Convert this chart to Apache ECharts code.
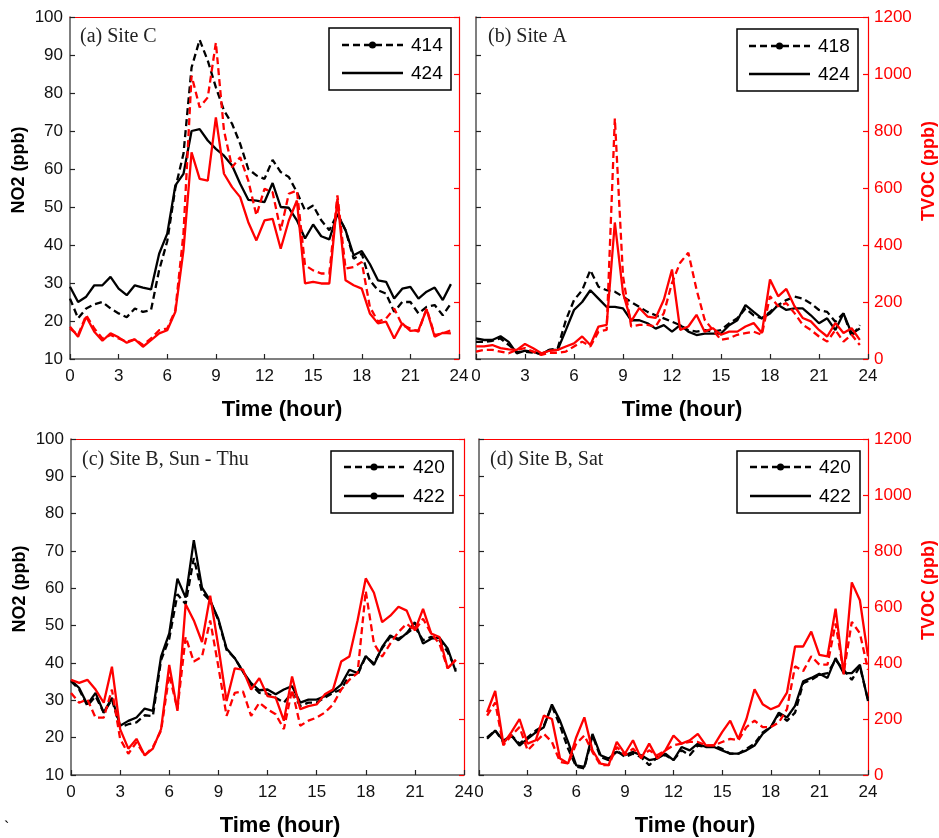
<!DOCTYPE html>
<html>
<head>
<meta charset="utf-8">
<script src="https://cdn.jsdelivr.net/npm/echarts@6/dist/echarts.min.js"></script>
<style>
html,body{margin:0;padding:0;background:#fff;}
#chart{width:939px;height:838px;}
</style>
</head>
<body>
<div id="chart"></div>
<script>
// ---------- DATA ----------
const hoursABC = [0,0.5,1,1.5,2,2.5,3,3.5,4,4.5,5,5.5,6,6.5,7,7.5,8,8.5,9,9.5,10,10.5,11,11.5,12,12.5,13,13.5,14,14.5,15,15.5,16,16.5,17,17.5,18,18.5,19,19.5,20,20.5,21,21.5,22,22.5,23,23.5];
const hoursD = [0.5,1,1.5,2,2.5,3,3.5,4,4.5,5,5.5,6,6.5,7,7.5,8,8.5,9,9.5,10,10.5,11,11.5,12,12.5,13,13.5,14,14.5,15,15.5,16,16.5,17,17.5,18,18.5,19,19.5,20,20.5,21,21.5,22,22.5,23,23.5,24];
const xTicks = [0,3,6,9,12,15,18,21,24];
const no2Ticks = [10,20,30,40,50,60,70,80,90,100];
const tvocTicks = [0,200,400,600,800,1000,1200];

const panelTitles = ['(a) Site C','(b) Site A','(c) Site B, Sun - Thu','(d) Site B, Sat'];
const legendNames = [['414','424'],['418','424'],['420','422'],['420','422']];

// Panel (a) Site C
const aNO2_414 = [25.9,20.7,23.3,24.4,25,23.3,22,21,23.3,22.4,22.9,33.4,41,55,64,86.7,94,88.5,81.5,75.4,71.9,66.6,60,58.3,57.4,62.4,59.2,57.9,53.9,49.1,50.4,46.5,43.9,48.2,43.9,36.4,37.7,30.7,28.1,27.2,22.4,25,25,22,23.7,24.2,21.5,24.6];
const aNO2_424 = [29,25,26.4,29.4,29.4,31.6,28.5,26.8,29.4,28.8,28.3,37.7,43,55.7,58.7,70,70.5,67.5,65.3,63.5,60.9,56.1,51.9,51.7,51.3,56.3,50,49.8,46.5,41.7,45.4,42.3,41.5,48.2,43.9,37.3,38.4,35,30.7,30.3,25.9,28.5,29,25.9,27.7,28.8,25.5,29.7];
const aTVOC_414 = [107,84,154,107,72,84,72,61,69,49,72,101,107,171,440,994,883,918,1110,801,673,708,626,504,597,585,451,580,591,329,311,300,300,574,317,323,340,183,131,142,177,119,107,96,177,84,90,101];
const aTVOC_424 = [113,78,148,96,64,90,76,57,69,43,66,90,101,166,381,725,632,626,848,650,603,568,480,416,486,492,387,486,556,265,271,265,265,562,276,259,247,160,125,131,72,125,99,101,174,78,92,90];

// Panel (b) Site A
const bNO2_418 = [14.5,14.5,14.8,15.4,13.7,11.9,11.9,11.7,11.3,12.4,12.8,20.2,25.5,28.1,33.4,29,28.1,27.7,26.4,25,23.7,22.4,21.5,20.7,19.8,18.9,17.6,17.2,17.6,17.2,17.6,19.4,20.7,23.3,21.5,20.7,22.4,24.2,25.5,26.4,25.9,24.6,22.9,22.4,19.8,22,15.9,18.9];
const bNO2_424 = [15.4,15,15,16,14.5,11.5,12.2,11.9,11.3,12.4,12.4,17.6,22.9,25,28.1,25.9,23.7,23.7,23.3,20.2,20.2,19.4,18,18.9,17.2,18.9,17.2,16.3,16.7,16.7,16.7,18.9,20.2,24.2,22.4,20.7,22,24.2,22.9,23.3,23.3,21.5,19.4,20.7,17.6,22,16.7,18];
const bTVOC_418 = [26,32,32,26,20,32,38,26,14,22,22,26,44,61,44,96,102,844,291,114,120,120,114,161,267,338,373,244,138,102,67,73,85,91,96,85,220,185,196,161,120,102,79,61,102,61,85,49];
const bTVOC_424 = [44,44,49,38,34,32,53,38,20,29,32,44,55,79,49,114,120,479,232,132,179,149,144,208,314,102,114,155,96,108,85,96,96,114,126,91,279,220,246,185,144,132,102,79,126,91,108,67];

// Panel (c) Site B, Sun - Thu
const cNO2_420 = [35.1,32.9,28.5,31.1,26.7,30.2,22.8,23.6,24.1,26,25.8,40.8,46.5,58.4,55.8,68.1,58.9,56.7,51.4,43.5,41.3,37.7,34.2,32,31.8,30.7,29.4,32,28.5,29.4,29.4,30.7,32,32.9,36.8,36.8,41.7,39.9,43.9,47,46.5,47.9,49.6,46.1,47,46.1,43,38.2];
const cNO2_422 = [35.4,33.3,28.9,32,26.7,30.7,23.2,24.5,25.4,27.8,27.2,41.7,47.9,62.6,57.5,72.9,60.2,56.7,51.8,43.9,41.3,37.7,34.6,32.7,32.9,31.6,32.9,33.8,29.4,30.2,30.2,31.1,32.4,34.2,38.2,37.3,41.9,39.5,44.3,47.4,46.1,48,50.9,45.2,46.5,46.8,43.9,37.7];
const cTVOC_420 = [293,258,270,205,205,305,129,76,117,70,100,158,358,235,493,405,423,552,387,211,293,299,211,258,235,217,164,305,176,194,205,223,252,305,340,364,657,469,423,469,511,540,516,558,505,469,381,411];
const cTVOC_422 = [340,329,340,305,258,387,164,94,129,70,94,164,393,229,610,552,475,640,458,264,381,376,305,346,282,276,194,352,235,246,252,288,305,405,423,552,702,651,546,569,601,587,516,593,505,493,381,411];

// Panel (d) Site B, Sat
const dNO2_420 = [20.1,21.9,18.8,20.6,18.4,20.1,21.9,23.2,28.5,23.2,17,12.2,11.8,20.6,14.8,14,16.6,14.8,15.7,14.8,12.6,14.8,15.3,14,16.6,15.3,17.9,17.5,17.9,17,15.7,15.7,17,18.4,21.4,22.8,26.3,24.5,26.7,34.6,35.5,36.8,37.3,40.8,38.2,35.5,39,30.2];
const dNO2_422 = [19.7,21.9,19.2,20.6,17.9,19.7,21.4,22.8,28.9,24.5,18.8,12.6,12.2,21,15.3,14.4,16.2,15.3,16.2,15.3,14,14.4,15.7,14,17.5,16.6,18.4,17.5,17.5,16.6,15.7,15.7,16.6,17.9,21,22.8,26.7,25.4,28.5,35.1,36,37.1,36,41.3,37.3,37.3,39.5,29.8];
const dTVOC_420 = [212,259,106,141,171,88,118,147,118,47,41,112,141,82,35,35,100,71,94,65,88,71,88,106,112,118,118,106,106,118,129,124,171,194,171,171,188,235,388,371,424,394,394,541,365,547,506,376];
const dTVOC_422 = [224,300,112,153,200,112,124,212,200,59,41,135,206,88,41,35,118,76,124,59,112,59,88,141,112,124,147,106,106,153,194,129,200,306,253,235,247,294,459,459,512,429,424,594,359,688,624,424];

// ---------- BUILD ----------
const SANS = '"Liberation Sans", Arial, sans-serif';
const SERIF = '"Liberation Serif", "Times New Roman", serif';
const RED = '#ff0000';
const AXIS_GRAY = '#555555';

const grids = [
  {left:70, top:17, width:389, height:342},
  {left:476, top:17, width:392, height:342},
  {left:71, top:439, width:393, height:341},
  {left:479, top:439, width:389, height:341}
];
// horizontal offset (px) of each "Time (hour)" label from its axis centre
const timeNameShift = [35, 20, 25, 43];

const panels = [
  {hours: hoursABC, no2:[aNO2_414,aNO2_424], tvoc:[aTVOC_414,aTVOC_424], leftLabels:true},
  {hours: hoursABC, no2:[bNO2_418,bNO2_424], tvoc:[bTVOC_418,bTVOC_424], leftLabels:false},
  {hours: hoursABC, no2:[cNO2_420,cNO2_422], tvoc:[cTVOC_420,cTVOC_422], leftLabels:true},
  {hours: hoursD,   no2:[dNO2_420,dNO2_422], tvoc:[dTVOC_420,dTVOC_422], leftLabels:false}
];

function pairs(h, v){ return h.map((x,i)=>[x, v[i]]); }
const plain = v => String(v);

const xAxes = [], yAxes = [], series = [];
panels.forEach((p, i) => {
  xAxes.push({
    type:'value', gridIndex:i, position:'bottom',
    min:xTicks[0], max:xTicks[xTicks.length-1], interval:3,
    axisLine:{show:true, onZero:false, lineStyle:{color:AXIS_GRAY, width:1.5}},
    axisTick:{show:true, inside:true, length:5, lineStyle:{color:'#222', width:1.2}},
    axisLabel:{show:true, margin:9, fontSize:17, color:'#111', fontFamily:SANS, formatter:plain},
    splitLine:{show:false},
    name:'Time (hour)', nameLocation:'middle', nameGap:40,
    nameTextStyle:{fontSize:22, fontWeight:'bold', color:'#000', fontFamily:SANS, padding:[0,0,0,timeNameShift[i]]}
  });
  xAxes.push({
    type:'value', gridIndex:i, position:'top', min:0, max:24,
    axisLine:{show:true, onZero:false, lineStyle:{color:RED, width:1}},
    axisTick:{show:false}, axisLabel:{show:false}, splitLine:{show:false}
  });
  yAxes.push({
    type:'value', gridIndex:i, position:'left',
    min:no2Ticks[0], max:no2Ticks[no2Ticks.length-1], interval:10,
    axisLine:{show:true, onZero:false, lineStyle:{color:AXIS_GRAY, width:1.5}},
    axisTick:{show:true, inside:true, length:5, lineStyle:{color:'#222', width:1.2}},
    axisLabel:{show:p.leftLabels, margin:7, fontSize:17, color:'#111', fontFamily:SANS, formatter:plain},
    splitLine:{show:false},
    name: p.leftLabels ? 'NO2 (ppb)' : '', nameLocation:'middle', nameGap:42, nameRotate:90,
    nameTextStyle:{fontSize:18, fontWeight:'bold', color:'#000', fontFamily:SANS, padding:[0,0,0,36]}
  });
  yAxes.push({
    type:'value', gridIndex:i, position:'right',
    min:tvocTicks[0], max:tvocTicks[tvocTicks.length-1], interval:200,
    axisLine:{show:true, onZero:false, lineStyle:{color:RED, width:1.2}},
    axisTick:{show:true, inside:true, length:5, lineStyle:{color:RED, width:1.2}},
    axisLabel:{show:!p.leftLabels, margin:6, fontSize:17, color:RED, fontFamily:SANS, formatter:plain},
    splitLine:{show:false},
    name: !p.leftLabels ? 'TVOC (ppb)' : '', nameLocation:'middle', nameGap:52, nameRotate:90,
    nameTextStyle:{fontSize:18, fontWeight:'bold', color:RED, fontFamily:SANS, padding:[0,0,0,34]}
  });
  const names = legendNames[i];
  const styles = [{type:[7,4]}, {type:'solid'}];
  [0,1].forEach(k => {
    series.push({
      type:'line', name:names[k]+' NO2', xAxisIndex:2*i, yAxisIndex:2*i,
      data:pairs(p.hours, p.no2[k]), symbol:'none', silent:true,
      lineStyle:{color:'#000', width:2.3, type:styles[k].type}, z:2
    });
  });
  [0,1].forEach(k => {
    series.push({
      type:'line', name:names[k]+' TVOC', xAxisIndex:2*i, yAxisIndex:2*i+1,
      data:pairs(p.hours, p.tvoc[k]), symbol:'none', silent:true,
      lineStyle:{color:RED, width:2.3, type:styles[k].type}, z:3
    });
  });
});

// Legend boxes and panel titles as graphics
const legendBoxes = [
  {x:329, y:28, w:122, h:62, lx1:342, lx2:403, tx:411, y1:45, y2:73, dots:[true,false]},
  {x:737, y:29, w:121, h:62, lx1:749, lx2:810, tx:818, y1:46, y2:74, dots:[true,false]},
  {x:331, y:451, w:122, h:62, lx1:344, lx2:404, tx:413, y1:467, y2:496, dots:[true,true]},
  {x:737, y:451, w:123, h:62, lx1:750, lx2:811, tx:819, y1:467, y2:496, dots:[true,false]}
];
const titlePos = [[80,37],[488,37],[82,460],[490,460]];

const graphics = [];
legendBoxes.forEach((b, i) => {
  graphics.push({type:'rect', shape:{x:b.x, y:b.y, width:b.w, height:b.h}, style:{fill:'#fff', stroke:'#000', lineWidth:1.5}, z:10});
  [b.y1, b.y2].forEach((yy, k) => {
    graphics.push({type:'line', shape:{x1:b.lx1, y1:yy, x2:b.lx2, y2:yy},
      style:{stroke:'#000', lineWidth:2.4, lineDash: k===0 ? [7,4] : null}, z:11});
    if (b.dots[k]) {
      graphics.push({type:'circle', shape:{cx:(b.lx1+b.lx2)/2, cy:yy, r:3.5}, style:{fill:'#000'}, z:12});
    }
    graphics.push({type:'text', x:b.tx, y:yy+1, style:{text:legendNames[i][k], font:'19px '+SANS, fill:'#000', textVerticalAlign:'middle', textAlign:'left'}, z:12});
  });
  graphics.push({type:'text', x:titlePos[i][0], y:titlePos[i][1], style:{text:panelTitles[i], font:'20px '+SERIF, fill:'#222', textVerticalAlign:'middle', textAlign:'left'}, z:12});
});
graphics.push({type:'text', x:4, y:829, style:{text:'`', font:'16px '+SANS, fill:'#000', textVerticalAlign:'middle'}, z:12});

const chart = echarts.init(document.getElementById('chart'), null, {renderer:'canvas'});
chart.setOption({
  animation:false,
  backgroundColor:'#fff',
  grid: grids.map(g => Object.assign({containLabel:false}, g)),
  xAxis: xAxes,
  yAxis: yAxes,
  series: series,
  graphic: graphics
});
</script>
</body>
</html>
